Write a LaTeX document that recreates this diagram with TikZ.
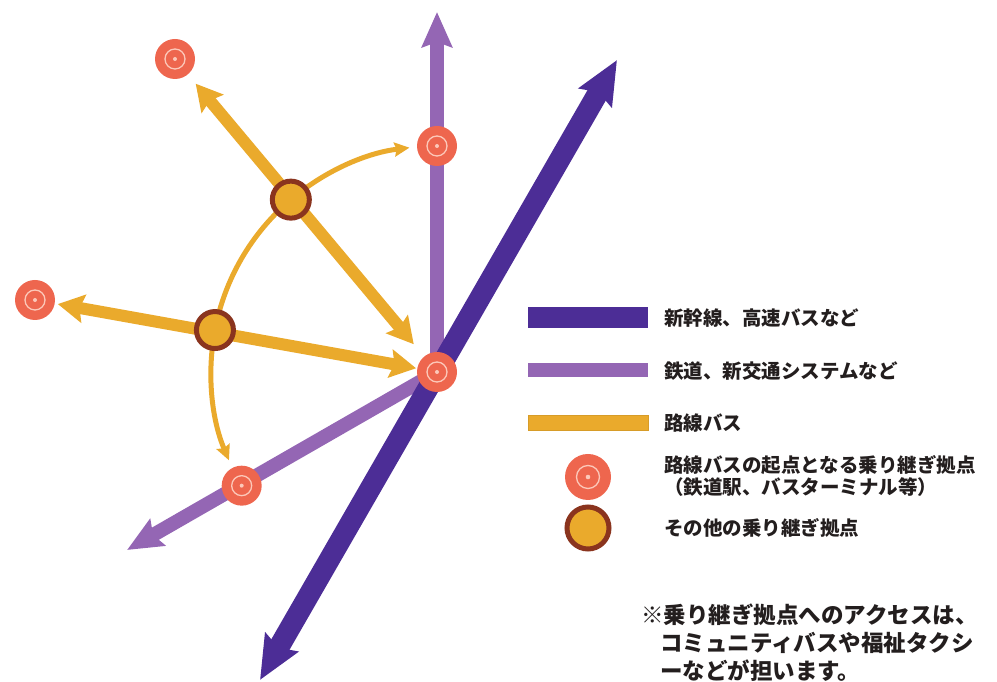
\documentclass[tikz,border=0pt]{standalone}
\usepackage{fontspec}
\newfontfamily\jp{Noto Sans CJK JP}
\usetikzlibrary{arrows.meta,calc}
\pgfdeclarelayer{bg}
\pgfsetlayers{bg,main}
\definecolor{sknavy}{RGB}{76,45,150}
\definecolor{skpurple}{RGB}{148,102,180}
\definecolor{skorange}{RGB}{234,170,44}
\definecolor{skstation}{RGB}{238,102,78}
\definecolor{skring}{RGB}{252,200,185}
\definecolor{skbrown}{RGB}{138,52,30}
\definecolor{sktext}{RGB}{35,30,30}
\begin{document}
\begin{tikzpicture}[x=1pt,y=1pt,
  station/.style={circle, fill=skstation, inner sep=0pt, minimum size=#1,
    path picture={\draw[skring, line width=1.3pt] (path picture bounding box.center) circle[radius=#1/4];
                  \fill[skring] (path picture bounding box.center) circle[radius=#1/20];}},
  station/.default=40pt,
  transfer/.style={circle, fill=skorange, draw=skbrown, line width=5pt, inner sep=0pt, minimum size=#1},
  transfer/.default=37pt,
  navyline/.style={draw=sknavy, line width=21pt},
  purpline/.style={draw=skpurple, line width=14pt},
  thickor/.style={draw=skorange, line width=12pt},
  thinor/.style={draw=skorange, line width=5pt},
  navytip/.tip={Stealth[length=43pt, width=37pt, inset=6pt]},
  purptip/.tip={Stealth[length=35pt, width=30pt, inset=5pt]},
  ortip/.tip={Stealth[length=26pt, width=28pt, inset=4pt]},
  smalltip/.tip={Stealth[length=15pt, width=14pt, inset=2pt]},
  legtext/.style={anchor=west, inner sep=0pt, text=sktext, font=\jp\bfseries\fontsize{19.5}{22}\selectfont},
  notetext/.style={anchor=base west, inner sep=0pt, text=sktext, font=\jp\bfseries\fontsize{22.5}{29}\selectfont},
  legbar/.style={inner sep=0pt, minimum width=120pt}
]
\useasboundingbox (0,0) rectangle (997,682);

% nodes
\node[station] (H) at (437,310) {};
\node[station] (U) at ($(H.center)+(90:226)$) {};
\node[station] (B) at ($(H.center)+(210.2:226)$) {};
\node[station] (TL) at (175,623) {};
\node[station] (L) at (35,382) {};
\node[transfer] (T1) at ($(H.center)+(130.3:226)$) {};
\node[transfer] (T2) at ($(H.center)+(169.3:226)$) {};
\coordinate (Ptop) at (437,670);
\coordinate (Pbl) at (127,132);
\coordinate (Btop) at (617,622);
\coordinate (Bbot) at (260,2);

\begin{pgfonlayer}{bg}
  \draw[thickor, {ortip}-{ortip}, shorten <=12pt, shorten >=16pt] (TL) -- (H);
  \draw[thickor, {ortip}-{ortip}, shorten <=3pt, shorten >=1pt] (L) -- (H);
  \draw[thinor, -{smalltip}] (T1.center) arc[start angle=130.3, end angle=97, radius=226];
  \draw[thinor] (T1.center) arc[start angle=130.3, end angle=169.3, radius=226];
  \draw[thinor, -{smalltip}] (T2.center) arc[start angle=169.3, end angle=203, radius=226];
  \draw[purpline, -{purptip}] (H.center) -- (Ptop);
  \draw[purpline, -{purptip}] (H.center) -- (Pbl);
  \draw[navyline, {navytip}-{navytip}] (Btop) -- (Bbot);
\end{pgfonlayer}

% legend
\node[legbar, fill=sknavy, minimum height=21pt] (legA) at (588,364) {};
\node[legbar, fill=skpurple, minimum height=14pt] (legB) at (588,312) {};
\node[legbar, fill=skorange, draw=skorange!92!black, line width=0.6pt, minimum height=15pt] (legC) at (588,259) {};
\node[station=46pt] (legD) at (588,205) {};
\node[transfer=42pt] (legE) at (588,154) {};

\node[legtext] (txtA) at (664,364) {新幹線、高速バスなど};
\node[legtext] (txtB) at (664,311) {鉄道、新交通システムなど};
\node[legtext] (txtC) at (664,259) {路線バス};
\node[legtext] (txtD) at (664,217) {路線バスの起点となる乗り継ぎ拠点};
\node[legtext] (txtD2) at (664,195) {（鉄道駅、バスターミナル等）};
\node[legtext] (txtE) at (664,154) {その他の乗り継ぎ拠点};

\node[notetext] (noteA) at (641,58) {※乗り継ぎ拠点へのアクセスは、};
\node[notetext] (noteB) at (660,30) {コミュニティバスや福祉タクシ};
\node[notetext] (noteC) at (660,2.5) {ーなどが担います。};
\end{tikzpicture}
\end{document}
